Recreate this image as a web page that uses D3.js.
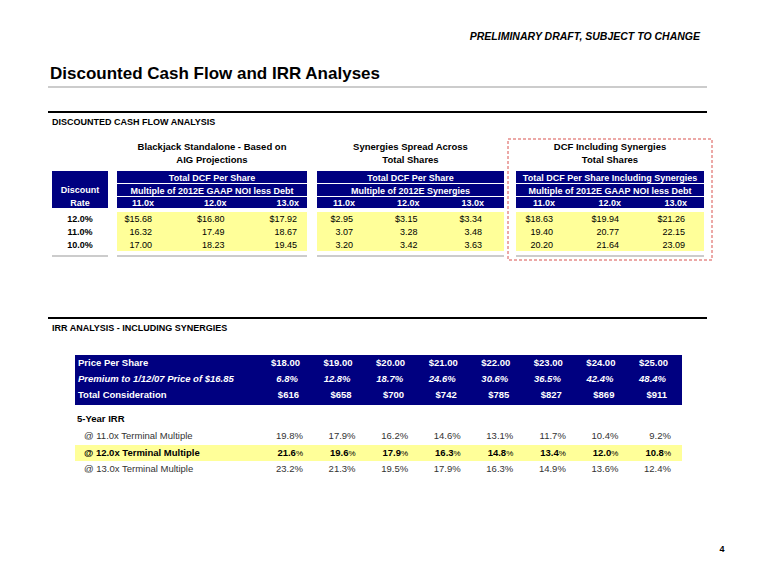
<!DOCTYPE html>
<html><head><meta charset="utf-8">
<script src="https://cdn.jsdelivr.net/npm/d3@7"></script>
<style>
body{margin:0;background:#fff;}
text{font-family:"Liberation Sans",Arial,sans-serif;}
</style></head>
<body>
<svg id="c" width="757" height="587"></svg>
<script>
// ---------- DATA ----------
const discountRates = ["12.0%", "11.0%", "10.0%"];
const multiples = ["11.0x", "12.0x", "13.0x"];
const standaloneDCF = [[15.68, 16.80, 17.92], [16.32, 17.49, 18.67], [17.00, 18.23, 19.45]];
const synergiesDCF = [[2.95, 3.15, 3.34], [3.07, 3.28, 3.48], [3.20, 3.42, 3.63]];
const combinedDCF = [[18.63, 19.94, 21.26], [19.40, 20.77, 22.15], [20.20, 21.64, 23.09]];
const blockTitles = [["Blackjack Standalone - Based on", "AIG Projections"], ["Synergies Spread Across", "Total Shares"], ["DCF Including Synergies", "Total Shares"]];
const blockHeads = [["Total DCF Per Share", "Multiple of 2012E GAAP NOI less Debt"], ["Total DCF Per Share", "Multiple of 2012E Synergies"], ["Total DCF Per Share Including Synergies", "Multiple of 2012E GAAP NOI less Debt"]];
const prices = [18, 19, 20, 21, 22, 23, 24, 25];
const premiums = ["6.8%", "12.8%", "18.7%", "24.6%", "30.6%", "36.5%", "42.4%", "48.4%"];
const consideration = [616, 658, 700, 742, 785, 827, 869, 911];
const irrLabels = ["@ 11.0x Terminal Multiple", "@ 12.0x Terminal Multiple", "@ 13.0x Terminal Multiple"];
const irr11 = [19.8, 17.9, 16.2, 14.6, 13.1, 11.7, 10.4, 9.2];
const irr12 = [21.6, 19.6, 17.9, 16.3, 14.8, 13.4, 12.0, 10.8];
const irr13 = [23.2, 21.3, 19.5, 17.9, 16.3, 14.9, 13.6, 12.4];

// ---------- DRAW ----------
const NAVY = "#000080", YEL = "#ffff99";
const svg = d3.select("#c");
function txt(x, y, s, o = {}) {
  const t = svg.append("text").attr("x", x).attr("y", y).text(s)
    .attr("font-size", o.size || 9).attr("fill", o.fill || "#000")
    .attr("font-weight", o.bold ? "bold" : "normal")
    .attr("font-style", o.italic ? "italic" : "normal")
    .attr("text-anchor", o.anchor || "start");
  return t;
}
function line(x1, y1, x2, y2, c, w) {
  svg.append("line").attr("x1", x1).attr("y1", y1).attr("x2", x2).attr("y2", y2).attr("stroke", c).attr("stroke-width", w);
}

txt(700, 40, "PRELIMINARY DRAFT, SUBJECT TO CHANGE", {size: 10.5, bold: true, italic: true, anchor: "end"});
txt(50, 79, "Discounted Cash Flow and IRR Analyses", {size: 17, bold: true});
line(48, 87, 707, 87, "#999", 1);
line(48, 112, 707, 112, "#000", 2);
txt(52, 125, "DISCOUNTED CASH FLOW ANALYSIS", {size: 9, bold: true});

// DCF tables
const rowY = d3.scalePoint().domain(discountRates).range([222, 248]);
const blocks = [
  {x0: 117, x1: 307, r: [152, 297], data: standaloneDCF},
  {x0: 317, x1: 504, r: [353, 482], data: synergiesDCF},
  {x0: 516, x1: 704, r: [553, 685], data: combinedDCF}
];
// dashed box
svg.append("rect").attr("x", 508).attr("y", 139).attr("width", 204).attr("height", 121)
  .attr("fill", "none").attr("stroke", "#d9534f").attr("stroke-width", 1).attr("stroke-dasharray", "3,2");

// discount column
svg.append("rect").attr("x", 52).attr("y", 171).attr("width", 56).attr("height", 37).attr("fill", NAVY);
txt(80, 193, "Discount", {size: 9, bold: true, fill: "#fff", anchor: "middle"});
txt(80, 206, "Rate", {size: 9, bold: true, fill: "#fff", anchor: "middle"});
discountRates.forEach(d => txt(80, rowY(d), d, {size: 9, bold: true, anchor: "middle"}));
line(52, 256, 108, 256, "#999", 1);

blocks.forEach((b, bi) => {
  const cx = (b.x0 + b.x1) / 2;
  txt(cx, 150, blockTitles[bi][0], {size: 9.5, bold: true, anchor: "middle"});
  txt(cx, 163, blockTitles[bi][1], {size: 9.5, bold: true, anchor: "middle"});
  svg.append("rect").attr("x", b.x0).attr("y", 171).attr("width", b.x1 - b.x0).attr("height", 37).attr("fill", NAVY);
  line(b.x0, 183.5, b.x1, 183.5, "#fff", 1);
  line(b.x0, 196.5, b.x1, 196.5, "#fff", 1);
  txt(cx, 181, blockHeads[bi][0], {size: 9, bold: true, fill: "#fff", anchor: "middle"});
  txt(cx, 194, blockHeads[bi][1], {size: 9, bold: true, fill: "#fff", anchor: "middle"});
  const xs = d3.scalePoint().domain(multiples).range(b.r);
  multiples.forEach(m => txt(xs(m) + 2, 206, m, {size: 9, bold: true, fill: "#fff", anchor: "end"}));
  svg.append("rect").attr("x", b.x0).attr("y", 212).attr("width", b.x1 - b.x0).attr("height", 39).attr("fill", YEL);
  line(b.x0, 256, b.x1, 256, "#999", 1);
  b.data.forEach((row, ri) => {
    row.forEach((v, ci) => {
      const s = (ri === 0 ? "$" : "") + d3.format(".2f")(v);
      txt(xs(multiples[ci]), rowY(discountRates[ri]), s, {size: 9, anchor: "end"});
    });
  });
});

// IRR section
line(48, 318, 707, 318, "#000", 2);
txt(52, 331, "IRR ANALYSIS - INCLUDING SYNERGIES", {size: 9, bold: true});

const px = d3.scalePoint().domain(prices).range([300, 668]);
svg.append("rect").attr("x", 75).attr("y", 355).attr("width", 607).attr("height", 50).attr("fill", NAVY);
txt(78, 366, "Price Per Share", {size: 9.5, bold: true, fill: "#fff"});
txt(78, 382, "Premium to 1/12/07 Price of $16.85", {size: 9.5, bold: true, italic: true, fill: "#fff"});
txt(78, 398, "Total Consideration", {size: 9.5, bold: true, fill: "#fff"});
prices.forEach((p, i) => {
  txt(px(p), 366, "$" + d3.format(".2f")(p), {size: 9.5, bold: true, fill: "#fff", anchor: "end"});
  txt(px(p) - 2, 382, premiums[i], {size: 9.5, bold: true, italic: true, fill: "#fff", anchor: "end"});
  txt(px(p) - 1, 398, "$" + consideration[i], {size: 9.5, bold: true, fill: "#fff", anchor: "end"});
});
txt(77, 422, "5-Year IRR", {size: 9.5, bold: true});
svg.append("rect").attr("x", 75).attr("y", 445).attr("width", 607).attr("height", 16).attr("fill", YEL);
const irrRows = [irr11, irr12, irr13];
const irrY = [439, 456, 472];
irrRows.forEach((row, ri) => {
  const bold = ri === 1;
  txt(84, irrY[ri], irrLabels[ri], {size: 9.5, bold: bold, fill: bold ? "#000" : "#333"});
  row.forEach((v, i) => {
    const t = txt(px(prices[i]) + 3, irrY[ri], "", {size: 9.5, bold: bold, anchor: "end", fill: bold ? "#000" : "#333"});
    t.append("tspan").text(d3.format(".1f")(v));
    t.append("tspan").text("%").attr("font-weight", "normal").attr("font-size", bold ? 8 : 9.5);
  });
});

txt(722, 552, "4", {size: 9, bold: true, anchor: "middle"});
</script>
</body></html>
